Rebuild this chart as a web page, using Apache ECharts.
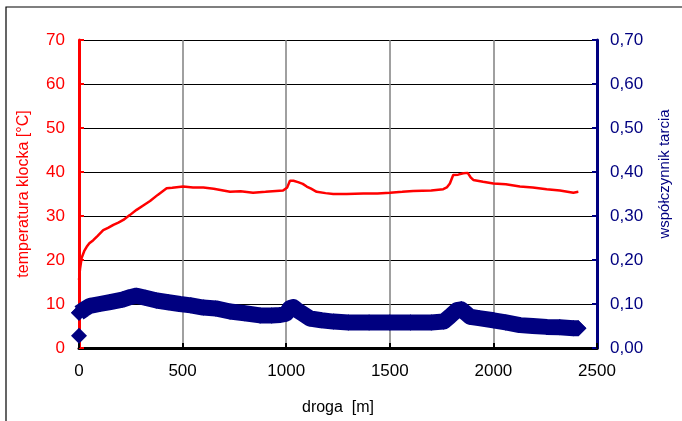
<!DOCTYPE html>
<html>
<head>
<meta charset="utf-8">
<script src="https://cdn.jsdelivr.net/npm/echarts@6/dist/echarts.min.js"></script>
<style>
  html, body { margin: 0; padding: 0; background: #fff; }
  #chart { width: 682px; height: 421px; }
</style>
</head>
<body>
<div id="chart"></div>
<script>
// Distance along the track [m]
const xTicks = [0, 500, 1000, 1500, 2000, 2500];

// Block temperature [°C] vs distance
const redDist = [0, 5, 13, 25, 37, 50, 69, 90, 117, 140, 166, 190, 214, 245, 278, 310, 343, 380, 423, 450,
  503, 550, 600, 650, 729, 780, 840, 900, 985, 1005, 1018, 1035, 1057, 1080, 1099, 1120, 1147, 1190, 1227,
  1292, 1372, 1440, 1501, 1560, 1613, 1700, 1758, 1775, 1790, 1806, 1830, 1855, 1876, 1890, 1903, 1950,
  2000, 2060, 2128, 2190, 2257, 2321, 2386, 2410];
const redTemp = [15.5, 18.0, 20.5, 22.0, 23.0, 23.8, 24.5, 25.5, 26.8, 27.3, 28.0, 28.5, 29.1, 30.2, 31.4,
  32.4, 33.4, 34.8, 36.3, 36.4, 36.7, 36.5, 36.5, 36.2, 35.5, 35.6, 35.3, 35.5, 35.8, 36.5, 38.0, 38.0,
  37.7, 37.3, 36.7, 36.2, 35.5, 35.2, 35.0, 35.0, 35.1, 35.1, 35.3, 35.5, 35.7, 35.8, 36.1, 36.5, 37.4,
  39.3, 39.4, 39.7, 39.8, 38.8, 38.2, 37.8, 37.4, 37.2, 36.7, 36.5, 36.1, 35.8, 35.3, 35.5];

// Friction coefficient vs distance
const blueDist = [0, 0, 25, 53, 100, 150, 210, 250, 278, 320, 375, 430, 487, 540, 600, 660, 729, 800, 874,
  930, 970, 1000, 1018, 1035, 1050, 1080, 1115, 1170, 1228, 1300, 1400, 1500, 1600, 1700, 1760, 1790,
  1823, 1845, 1870, 1887, 1930, 2000, 2060, 2128, 2190, 2257, 2320, 2386, 2410];
const blueVal = [0.028, 0.080, 0.088, 0.096, 0.100, 0.1045, 0.110, 0.116, 0.119, 0.114, 0.108, 0.104,
  0.100, 0.097, 0.092, 0.090, 0.083, 0.079, 0.074, 0.074, 0.075, 0.078, 0.091, 0.093, 0.087, 0.078,
  0.067, 0.063, 0.060, 0.058, 0.058, 0.058, 0.058, 0.058, 0.060, 0.072, 0.086, 0.088, 0.078, 0.071,
  0.068, 0.063, 0.058, 0.052, 0.050, 0.048, 0.047, 0.045, 0.045];

const RED = '#ff0000';
const NAVY = '#000080';
const FONT = '"Liberation Sans", Arial, sans-serif';

const redData = redDist.map((d, i) => [d, redTemp[i]]);
const blueData = blueDist.map((d, i) => [d, blueVal[i]]);

const chart = echarts.init(document.getElementById('chart'), null, { renderer: 'canvas' });
chart.setOption({
  animation: false,
  backgroundColor: '#fff',
  textStyle: { fontFamily: FONT },
  graphic: [{
    type: 'rect',
    shape: { x: 6, y: 7, width: 720, height: 460 },
    style: { fill: 'none', stroke: '#000', lineWidth: 1.2 },
    silent: true, z: -1
  }],
  grid: { left: 79, right: 85, top: 40, bottom: 73, containLabel: false },
  xAxis: {
    type: 'value', min: xTicks[0], max: xTicks[xTicks.length - 1], interval: 500,
    name: 'droga  [m]', nameLocation: 'middle', nameGap: 52,
    nameTextStyle: { color: '#000', fontSize: 16, fontFamily: FONT },
    axisLine: { show: true, onZero: false, lineStyle: { color: '#000', width: 3 } },
    axisTick: { show: true, inside: true, length: 5, lineStyle: { color: '#000', width: 2 } },
    axisLabel: { color: '#000', fontSize: 17, margin: 15, fontFamily: FONT, formatter: v => String(v) },
    splitLine: { show: true, lineStyle: { color: '#808080', width: 1.5 } }
  },
  yAxis: [{
    type: 'value', min: 0, max: 70, interval: 10, position: 'left',
    name: 'temperatura klocka [°C]', nameLocation: 'middle', nameGap: 47, nameRotate: 90,
    nameTextStyle: { color: RED, fontSize: 16, fontFamily: FONT },
    axisLine: { show: true, lineStyle: { color: RED, width: 3 } },
    axisTick: { show: true, inside: true, length: 5, lineStyle: { color: RED, width: 2 } },
    axisLabel: { color: RED, fontSize: 17, margin: 14, fontFamily: FONT },
    splitLine: { show: true, lineStyle: { color: '#000', width: 1 } }
  }, {
    type: 'value', min: 0, max: 0.7, interval: 0.1, position: 'right',
    name: 'współczynnik tarcia', nameLocation: 'middle', nameGap: 60, nameRotate: 90,
    nameTextStyle: { color: NAVY, fontSize: 15, fontFamily: FONT, padding: [0, 0, 0, 40] },
    axisLine: { show: true, lineStyle: { color: NAVY, width: 3 } },
    axisTick: { show: true, inside: true, length: 5, lineStyle: { color: NAVY, width: 2 } },
    axisLabel: {
      color: NAVY, fontSize: 17, margin: 13, fontFamily: FONT,
      formatter: v => v.toFixed(2).replace('.', ',')
    },
    splitLine: { show: false }
  }],
  series: [{
    name: 'wspolczynnik-pasmo',
    type: 'line', yAxisIndex: 1,
    data: blueData.slice(1),
    showSymbol: true, symbol: 'diamond', symbolSize: 16,
    lineStyle: { color: NAVY, width: 16, join: 'round' },
    itemStyle: { color: NAVY, opacity: 1 },
    z: 2
  }, {
    name: 'wspolczynnik',
    type: 'scatter', yAxisIndex: 1,
    data: blueData,
    symbol: 'diamond', symbolSize: 16,
    itemStyle: { color: NAVY, opacity: 1 },
    z: 3
  }, {
    name: 'temperatura',
    type: 'line', yAxisIndex: 0,
    data: redData,
    showSymbol: false,
    lineStyle: { color: RED, width: 2.5 },
    z: 4
  }]
});
</script>
</body>
</html>
